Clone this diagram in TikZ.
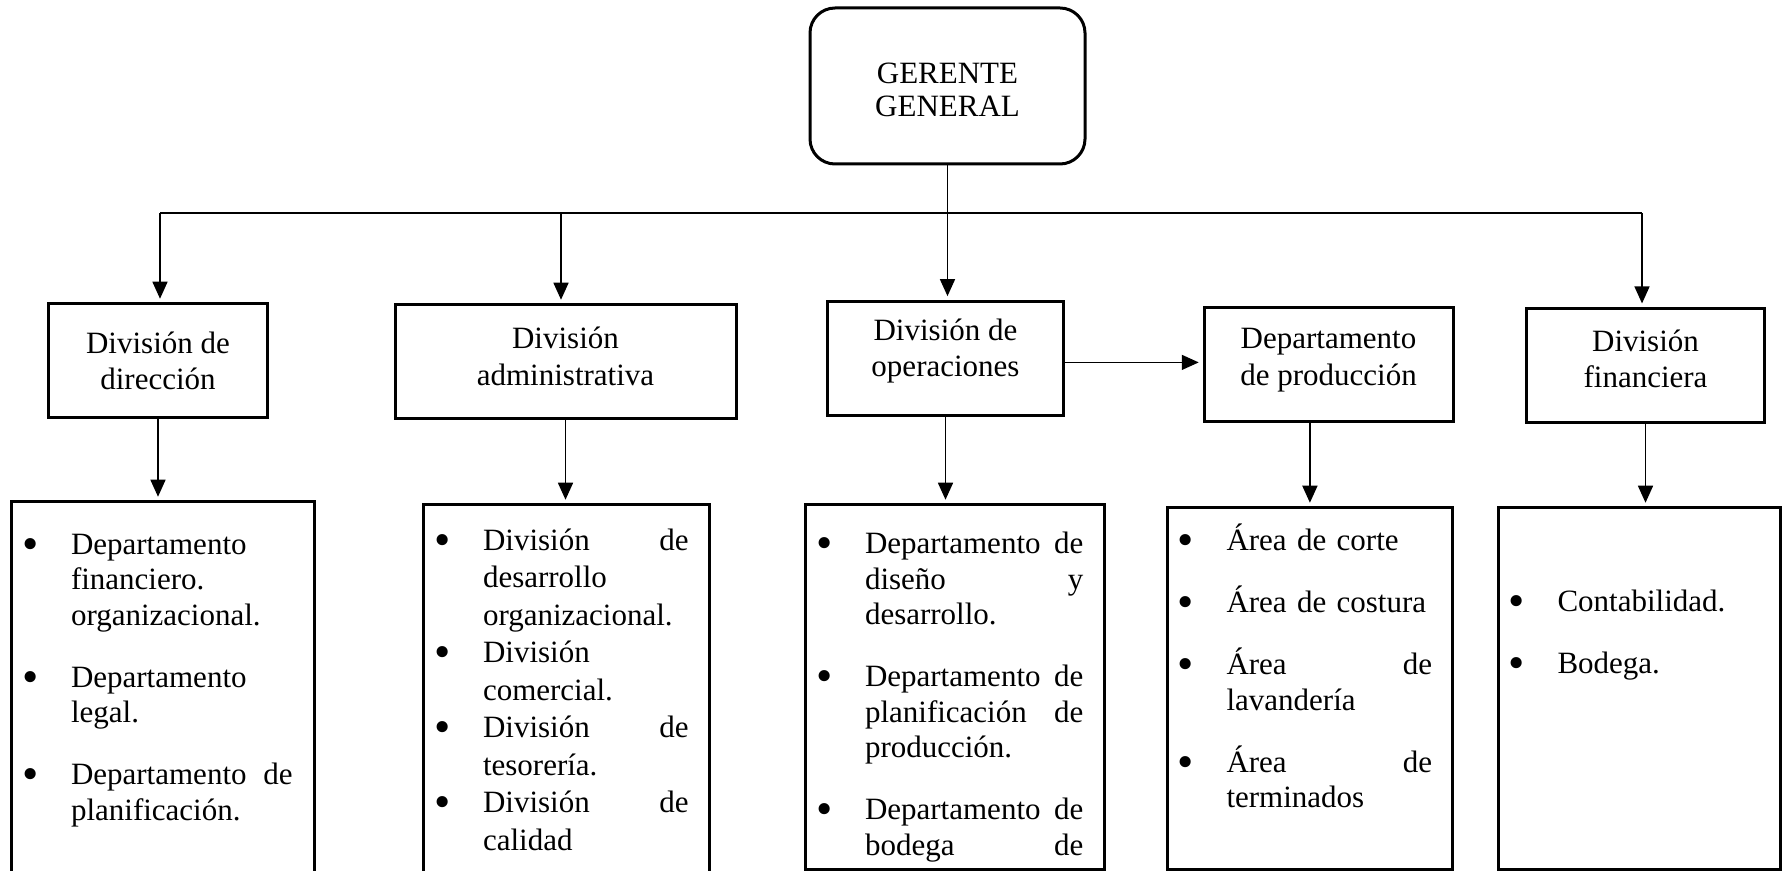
\documentclass[tikz,border=0pt]{standalone}
\usepackage{graphicx}
\usepackage{fontspec}
\setmainfont{Liberation Serif}
\usetikzlibrary{arrows.meta,positioning}
\newcommand{\orgbullet}{\makebox[4.6pt]{\raisebox{-0.17em}{\scalebox{1.5}{\textbullet}}}}
\newcommand{\orgitem}[1]{\leftskip=18.6pt\relax\leavevmode
  \llap{\makebox[18.6pt][l]{\orgbullet}}#1\par}
\newcommand{\liftby}[2]{\raisebox{#1}[\height][\depth]{#2}}

\begin{document}
\begin{tikzpicture}[x=0.4pt, y=-0.4pt,
  divbox/.style={draw, line width=1.2pt, minimum height=45.6pt, align=center,
    inner sep=2pt, font=\fontsize{12.4}{14.6}\selectfont},
  listbox/.style={draw, line width=1.2pt, inner sep=0pt},
  listtext/.style={anchor=base west, inner sep=0pt,
    font=\fontsize{12.4}{14.2}\selectfont},
  link/.style={line width=0.6pt},
  arr/.style={link, -{Triangle[length=6.8pt,width=6pt]}, shorten >=1.5pt}]

\clip (0,0) rectangle (1785,871);

% Top: general manager
\node[draw, line width=1.2pt, rounded corners=10pt, minimum width=110pt,
  minimum height=62.4pt, align=center, font=\fontsize{12.4}{13.2}\selectfont]
  (gerente) at (947.5,86) {\liftby{-1.7pt}{GERENTE}\\\liftby{-1.7pt}{GENERAL}};

% Divisions
\node[divbox, minimum width=87.3pt]  (dir)  at (158,361)
  {División de\\dirección};
\node[divbox, minimum width=136.4pt] (adm)  at (565.5,362)
  {\liftby{2.2pt}{División}\\\liftby{2.2pt}{administrativa}};
\node[divbox, minimum width=94.7pt]  (ops)  at (945.5,358.4)
  {\liftby{3pt}{División de}\\\liftby{3pt}{operaciones}};
\node[divbox, minimum width=99.6pt]  (prod) at (1328.5,364.5)
  {\liftby{1.8pt}{Departamento}\\\liftby{1.8pt}{de producción}};
\node[divbox, minimum width=95.2pt]  (fin)  at (1645.5,365.7)
  {\liftby{2.8pt}{División}\\\liftby{2.8pt}{financiera}};

% List boxes
\node[listbox, minimum width=121pt,   minimum height=159.2pt] (dirbox)  at (162.75,701)  {};
\node[listbox, minimum width=114.5pt, minimum height=158pt]   (admbox)  at (566.7,702.5) {};
\node[listbox, minimum width=119.4pt, minimum height=145.6pt] (opsbox)  at (954.75,687)  {};
\node[listbox, minimum width=114.3pt, minimum height=144.4pt] (prodbox) at (1309.9,688.5) {};
\node[listbox, minimum width=112.8pt, minimum height=144.4pt] (finbox)  at (1639,688.5)  {};

% List texts
\node[listtext, text width=107.2pt] (dirlist) at (24,554) {\setlength{\parskip}{10.6pt}%
  \orgitem{Departamento\\financiero.\\organizacional.}
  \orgitem{Departamento\\legal.}
  \orgitem{Departamento\hfill de\\planificación.}};
\node[listtext, text width=100.9pt, font=\fontsize{12.4}{15}\selectfont]
  (admlist) at (436,550) {\setlength{\parskip}{0pt}%
  \orgitem{División\hfill de\\desarrollo\\organizacional.}
  \orgitem{División\\comercial.}
  \orgitem{División\hfill de\\tesorería.}
  \orgitem{División\hfill de\\calidad}};
\node[listtext, text width=105.9pt] (opslist) at (818,553.5) {\setlength{\parskip}{10.6pt}%
  \orgitem{Departamento\hfill de\\diseño\hfill y\\desarrollo.}
  \orgitem{Departamento\hfill de\\planificación\hfill de\\producción.}
  \orgitem{Departamento\hfill de\\bodega\hfill de}};
\node[listtext, text width=100.8pt] (prodlist) at (1179.5,550.7) {\setlength{\parskip}{10.6pt}%
  \orgitem{Área de corte}
  \orgitem{Área de costura}
  \orgitem{Área\hfill de\\lavandería}
  \orgitem{Área\hfill de\\terminados}};
\node[listtext, text width=100pt] (finlist) at (1510.5,611.7) {\setlength{\parskip}{10.6pt}%
  \orgitem{Contabilidad.}
  \orgitem{Bodega.}};

% Bus from the manager
\coordinate (busL) at (160,213);
\coordinate (busA) at (561,213);
\coordinate (busR) at (1642,213);
\draw[link] (busL) -- (busR);
\draw[arr] (gerente.south) -- (gerente.south |- ops.north);
\draw[arr] (busL) -- (busL |- dir.north);
\draw[arr] (busA) -- (busA |- adm.north);
\draw[arr] (busR) -- (busR |- fin.north);
\draw[arr] ([yshift=-1.6pt]ops.east) -- ([yshift=-1.6pt]ops.east -| prod.west);

% Down to the lists
\draw[arr] (dir.south) -- (dir.south |- dirbox.north);
\draw[arr] (adm.south) -- (adm.south |- admbox.north);
\draw[arr] (ops.south) -- (ops.south |- opsbox.north);
\draw[arr] (prodbox.north |- prod.south) -- (prodbox.north);
\draw[arr] (fin.south) -- (fin.south |- finbox.north);

\end{tikzpicture}
\end{document}
